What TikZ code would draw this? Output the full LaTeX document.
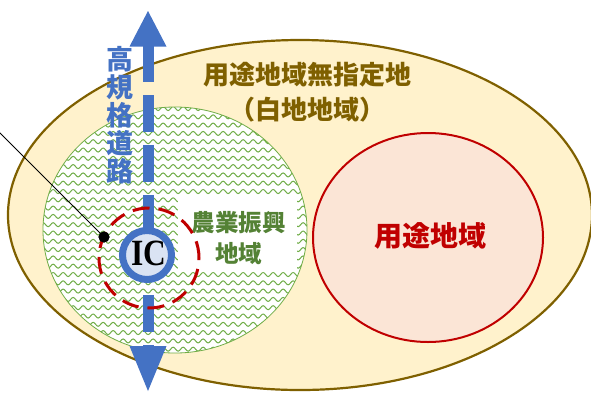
\documentclass[tikz,border=0pt]{standalone}
\usepackage{fontspec}
\newfontfamily\jp{Noto Sans CJK JP}
\newfontfamily\icfont{Liberation Serif}
\usetikzlibrary{shapes.geometric,decorations.pathmorphing}
\definecolor{cOuterFill}{HTML}{FFF2CC}
\definecolor{cOuterLine}{HTML}{7F6000}
\definecolor{cGreen}{HTML}{70AD47}
\definecolor{cGreenText}{HTML}{548235}
\definecolor{cRed}{HTML}{C00000}
\definecolor{cPink}{HTML}{FBE5D6}
\definecolor{cBlue}{HTML}{4472C4}
\definecolor{cLightBlue}{HTML}{DAE3F3}
\tikzset{
  region/.style={ellipse, inner sep=0pt},
  jptext/.style={font=\jp\bfseries\fontsize{#1}{#1}\selectfont, inner sep=0pt},
  wave/.style={cGreen, line width=1pt, decorate,
    decoration={snake, segment length=10pt, amplitude=2pt}},
  roadhead/.style={fill=cBlue},
}
\begin{document}
\begin{tikzpicture}[x=1pt,y=-1pt]
\useasboundingbox (0,0) rectangle (591,392);
% outer region
\node[region, draw=cOuterLine, line width=2.2pt, fill=cOuterFill,
      minimum width=584pt, minimum height=350pt] (outer) at (300,215) {};
% agricultural region with wavy hatch
\node[region, fill=white, minimum width=264pt, minimum height=246pt] (agri) at (175,230) {};
\begin{scope}
  \clip (agri.center) ellipse [x radius=132pt, y radius=123pt];
  \foreach \yy in {108.5,116.8,...,356} \draw[wave] (30,\yy) -- (320,\yy);
\end{scope}
\node[region, draw=cGreen, line width=0.8pt, minimum width=264pt, minimum height=246pt] (agriline) at (agri) {};
% use district
\node[region, draw=cRed, line width=2pt, fill=cPink,
      minimum width=230pt, minimum height=209pt] (youto) at (428,237.5) {};
\node[jptext=28, text=cRed] (youtolabel) at (430,236) {用途地域};
% outer labels
\node[jptext=26, text=cOuterLine] (outerlabel1) at (307,75) {用途地域無指定地};
\node[jptext=26, text=cOuterLine] (outerlabel2) at (307,110) {（白地地域）};
% white box for agri label
\node[fill=white, minimum width=119pt, minimum height=75pt, inner sep=0pt] (agribox) at (237.5,232.5) {};
\node[jptext=23.5, text=cGreenText, align=center] (agrilabel1) at (238.5,222.5) {農業振興};
\node[jptext=23.5, text=cGreenText, align=center] (agrilabel2) at (238.5,254) {地域};
% road arrow
\coordinate (atop) at (148,11);
\coordinate (abot) at (148,391);
\coordinate (sTop) at (148,45);
\coordinate (sBot) at (148,347);
\draw[cBlue, line width=11pt, dash pattern=on 37pt off 13pt] (sTop) -- (sBot);
\fill[roadhead] (atop) -- ++(18.5,35.5) -- ++(-37,0) -- cycle;
\fill[roadhead] (abot) -- ++(18.5,-45) -- ++(-37,0) -- cycle;
\node[jptext=27, text=cBlue, align=center] (road) at (120,115) {高\\[1pt]規\\[1pt]格\\[1pt]道\\[1pt]路};
% IC area
\node[circle, draw=cRed, line width=3pt, dash pattern=on 17pt off 9pt,
      minimum size=100pt, inner sep=0pt] (icarea) at (149,258) {};
\node[circle, draw=cBlue, line width=7pt, fill=cLightBlue,
      minimum size=49pt, inner sep=0pt] (ic) at (147,255) {};
\node[font=\icfont\bfseries\fontsize{37}{37}\selectfont, inner sep=0pt] (iclabel) at (148.5,253.5) {\scalebox{0.85}[1]{IC}};
% pointer
\coordinate (lend) at (-5,128);
\node[circle, fill=black, minimum size=11pt, inner sep=0pt] (dot) at (104,237) {};
\draw[black, line width=0.8pt] (lend) -- (dot.center);
\node[circle, fill=black, minimum size=11pt, inner sep=0pt] at (dot) {};
\end{tikzpicture}
\end{document}
